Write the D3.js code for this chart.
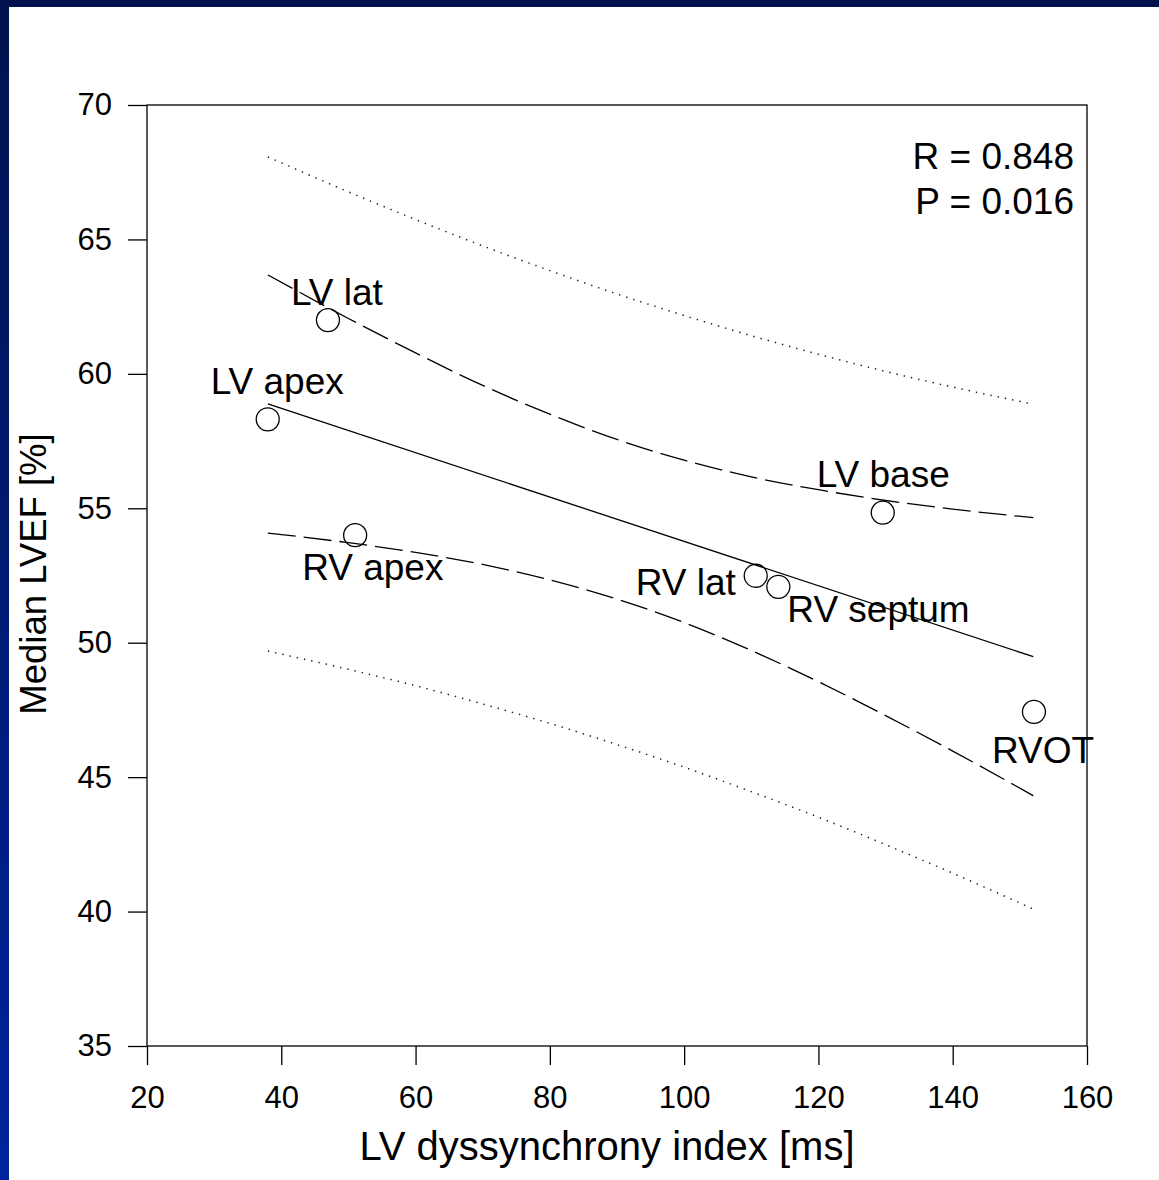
<!DOCTYPE html>
<html>
<head>
<meta charset="utf-8">
<script src="https://cdn.jsdelivr.net/npm/d3@7"></script>
<style>
  html, body { margin: 0; padding: 0; background: #fff; }
  svg { display: block; }
  text { font-family: "Liberation Sans", Arial, sans-serif; fill: #000; }
</style>
</head>
<body>
<script>
// sites and their values
var sites = ["LV apex", "LV lat", "RV apex", "RV lat", "RV septum", "LV base", "RVOT"];
var dyssync = [37.98, 46.95, 51.0, 110.66, 114.03, 129.58, 152.1];
var lvef = [58.31, 62.0, 54.0, 52.49, 52.08, 54.84, 47.43];

// regression line ends
var regX = [38, 152];
var regY = [58.88, 49.48];

// confidence (dashed) and prediction (dotted) bands
var bandX = [38, 50, 60, 70, 80, 90, 100, 110, 120, 130, 140, 152];
var ciUpper = [63.68, 62.06, 60.78, 59.57, 58.50, 57.56, 56.79, 56.17, 55.69, 55.29, 54.97, 54.65];
var ciLower = [54.08, 53.72, 53.36, 52.91, 52.34, 51.62, 50.75, 49.71, 48.55, 47.29, 45.97, 44.31];
var piUpper = [68.07, 66.77, 65.74, 64.76, 63.84, 62.97, 62.17, 61.42, 60.73, 60.09, 59.51, 58.87];
var piLower = [49.69, 49.01, 48.40, 47.72, 47.00, 46.21, 45.37, 44.46, 43.51, 42.49, 41.43, 40.09];

var xTicks = [20, 40, 60, 80, 100, 120, 140, 160];
var yTicks = [35, 40, 45, 50, 55, 60, 65, 70];
var stats = ["R = 0.848", "P = 0.016"];

// label offsets from the point (px)
var labelOff = {
    "LV apex": [-57, -25],
    "LV lat": [-37, -15],
    "RV apex": [-53, 45],
    "RV lat": [-120, 19],
    "RV septum": [9, 35],
    "LV base": [-66, -26],
    "RVOT": [-42, 51]
};

var width = 1159,
    height = 1180,
    margin = ({ top: 105, right: 72, bottom: 134, left: 147 });

var svg = d3.select("body").append("svg")
    .attr("width", width)
    .attr("height", height);

// slide background: dark blue frame top and left
var grad = svg.append("defs").append("linearGradient")
    .attr("id", "side")
    .attr("x1", 0).attr("y1", 0).attr("x2", 0).attr("y2", 1);
grad.append("stop").attr("offset", "0%").attr("stop-color", "#00124d");
grad.append("stop").attr("offset", "100%").attr("stop-color", "#00239c");

svg.append("rect").attr("width", width).attr("height", height).attr("fill", "#fff");
svg.append("rect").attr("x", 0).attr("y", 0).attr("width", width).attr("height", 7).attr("fill", "#00124d");
svg.append("rect").attr("x", 0).attr("y", 0).attr("width", 9).attr("height", height).attr("fill", "url(#side)");

var x = d3.scaleLinear()
    .domain([20, 160])
    .range([margin.left, width - margin.right]);

var y = d3.scaleLinear()
    .domain([35, 70])
    .range([height - margin.bottom, margin.top]);

// axes
var xAxis = g => g
    .attr("transform", `translate(0, ${y(35)})`)
    .call(d3.axisBottom(x).tickValues(xTicks).tickSize(19).tickSizeOuter(0).tickPadding(21))
    .call(g => g.select(".domain").remove())
    .call(g => g.selectAll(".tick line").attr("stroke", "#000").attr("stroke-width", 1.3))
    .call(g => g.selectAll(".tick text").attr("font-size", 31).attr("font-family", "Liberation Sans, Arial, sans-serif"));

var yAxis = g => g
    .attr("transform", `translate(${x(20)}, 0)`)
    .call(d3.axisLeft(y).tickValues(yTicks).tickSize(19).tickSizeOuter(0).tickPadding(16))
    .call(g => g.select(".domain").remove())
    .call(g => g.selectAll(".tick line").attr("stroke", "#000").attr("stroke-width", 1.3))
    .call(g => g.selectAll(".tick text").attr("font-size", 31).attr("font-family", "Liberation Sans, Arial, sans-serif"));

svg.append("g").call(xAxis);
svg.append("g").call(yAxis);

// frame
svg.append("rect")
    .attr("x", x(20))
    .attr("y", y(70))
    .attr("width", x(160) - x(20))
    .attr("height", y(35) - y(70))
    .attr("fill", "none")
    .attr("stroke", "#000")
    .attr("stroke-width", 1.3);

// lines
var line = d3.line()
    .x(d => x(d[0]))
    .y(d => y(d[1]))
    .curve(d3.curveMonotoneX);

function band(vals) {
    return bandX.map((v, i) => [v, vals[i]]);
}

svg.append("path")
    .attr("d", line(regX.map((v, i) => [v, regY[i]])))
    .attr("fill", "none")
    .attr("stroke", "#000")
    .attr("stroke-width", 1.3);

[ciUpper, ciLower].forEach(function(vals) {
    svg.append("path")
        .attr("d", line(band(vals)))
        .attr("fill", "none")
        .attr("stroke", "#000")
        .attr("stroke-width", 1.3)
        .attr("stroke-dasharray", "28,8");
});

[piUpper, piLower].forEach(function(vals) {
    svg.append("path")
        .attr("d", line(band(vals)))
        .attr("fill", "none")
        .attr("stroke", "#222")
        .attr("stroke-width", 1.5)
        .attr("stroke-dasharray", "1.4,6");
});

// points
var pts = sites.map((s, i) => ({ name: s, x: dyssync[i], y: lvef[i] }));

svg.append("g")
    .selectAll("circle")
    .data(pts)
    .enter()
    .append("circle")
    .attr("cx", d => x(d.x))
    .attr("cy", d => y(d.y))
    .attr("r", 11.5)
    .attr("fill", "none")
    .attr("stroke", "#000")
    .attr("stroke-width", 1.3);

svg.append("g")
    .selectAll("text")
    .data(pts)
    .enter()
    .append("text")
    .attr("x", d => x(d.x) + labelOff[d.name][0])
    .attr("y", d => y(d.y) + labelOff[d.name][1])
    .attr("font-size", 37)
    .text(d => d.name);

// stats
svg.append("g")
    .selectAll("text")
    .data(stats)
    .enter()
    .append("text")
    .attr("x", 1074)
    .attr("y", (d, i) => 169 + i * 45)
    .attr("text-anchor", "end")
    .attr("font-size", 37)
    .text(d => d);

// axis titles
svg.append("text")
    .attr("x", 607)
    .attr("y", 1160)
    .attr("text-anchor", "middle")
    .attr("font-size", 40)
    .text("LV dyssynchrony index [ms]");

svg.append("text")
    .attr("transform", "translate(46, 574) rotate(-90)")
    .attr("text-anchor", "middle")
    .attr("font-size", 36.5)
    .text("Median LVEF [%]");
</script>
</body>
</html>
